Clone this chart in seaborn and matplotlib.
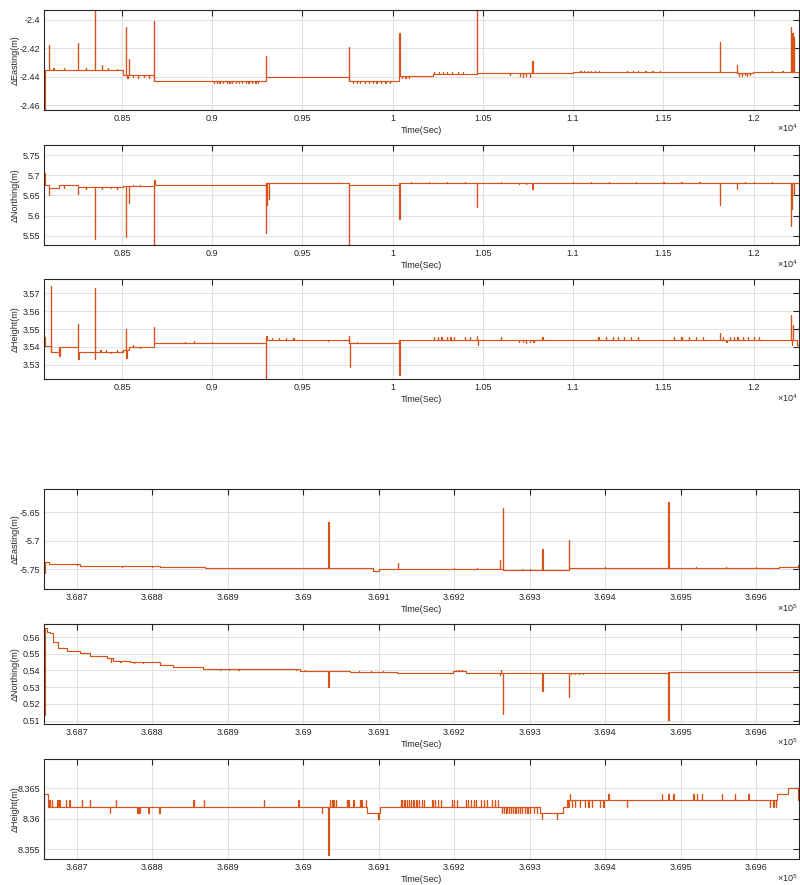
import pandas as pd
import seaborn as sns
import matplotlib.pyplot as plt
from matplotlib.ticker import FuncFormatter

# --- Data (time in s, offsets in m) ---
# Top group: 8068 .. 12252 s
T1_RANGE = (8068, 12252)

E1_lev_t = [8068, 8072, 8508, 8676, 9297, 9759, 10037, 10225, 10468, 11000, 11907, 11998]
E1_lev_v = [-2.463, -2.435, -2.4387, -2.4427, -2.4400, -2.4427, -2.4394, -2.4383, -2.4376, -2.4368, -2.4376, -2.4368]
E1_spk_t = [8097, 8255, 8349, 8389, 8521, 8539, 8676, 9297, 9759, 10037, 10468, 10775, 11815, 11907, 12207, 12215, 12225]
E1_spk_v = [-2.4176, -2.4164, -2.385, -2.4317, -2.4047, -2.4277, -2.4005, -2.4254, -2.4188, -2.4094, -2.385,
            -2.4287, -2.4157, -2.4317, -2.4047, -2.409, -2.412]
E1_fz_t = [8120, 8180, 8300, 8420, 8470, 8530, 8560, 8590, 8620, 8650,
           9010, 9025, 9040, 9060, 9080, 9095, 9110, 9130, 9150, 9165, 9185, 9200, 9220, 9240, 9255,
           9780, 9800, 9820, 9845, 9870, 9890, 9910, 9935, 9960, 9985, 10050, 10070, 10090,
           10230, 10255, 10280, 10300, 10330, 10360, 10390, 10650, 10705, 10720, 10740, 10760,
           11040, 11060, 11080, 11100, 11120, 11145, 11300, 11330, 11360, 11400, 11440, 11480,
           11920, 11935, 11950, 11965, 11980, 12100, 12160]
E1_fz_v = [-2.4340, -2.4340, -2.4340, -2.4335, -2.4345, -2.4405, -2.4400, -2.4405, -2.4400, -2.4405,
           -2.4445, -2.4440, -2.4445, -2.4440, -2.4445, -2.4440, -2.4445, -2.4440, -2.4445, -2.4440, -2.4445, -2.4440, -2.4445, -2.4440, -2.4445,
           -2.4445, -2.4440, -2.4445, -2.4440, -2.4445, -2.4440, -2.4445, -2.4440, -2.4445, -2.4440, -2.4405, -2.4408, -2.4405,
           -2.4365, -2.4365, -2.4368, -2.4365, -2.4365, -2.4368, -2.4365, -2.4390, -2.4395, -2.4398, -2.4395, -2.4398,
           -2.4358, -2.4358, -2.4360, -2.4358, -2.4358, -2.4360, -2.4358, -2.4358, -2.4360, -2.4358, -2.4358, -2.4360,
           -2.4392, -2.4392, -2.4390, -2.4392, -2.4390, -2.4360, -2.4360]

N1_lev_t = [8068, 8071, 8097, 8153, 8255, 8508, 8676, 9297, 9759, 10037]
N1_lev_v = [5.705, 5.676, 5.669, 5.676, 5.670, 5.673, 5.6757, 5.680, 5.6757, 5.6815]
N1_spk_t = [8097, 8255, 8349, 8389, 8521, 8539, 8676, 8680, 9297, 9302, 9315, 9759, 10037, 10468, 10775,
            11815, 11907, 12207, 12214, 12222]
N1_spk_v = [5.651, 5.653, 5.541, 5.665, 5.546, 5.630, 5.52, 5.688, 5.558, 5.625, 5.640, 5.52, 5.591, 5.622, 5.667,
            5.625, 5.667, 5.574, 5.616, 5.650]
N1_fz_t = [8180, 8300, 8440, 8470, 8560, 8600, 9350, 9400, 9450, 9500, 9550, 9600, 9650, 10100, 10200,
           10300, 10400, 10600, 10700, 10740, 11000, 11100, 11200, 11350, 11500, 11600, 11700, 11950, 12000, 12100]
N1_fz_v = [5.668, 5.665, 5.668, 5.666, 5.676, 5.677, 5.682, 5.682, 5.682, 5.682, 5.682, 5.682, 5.682, 5.684, 5.684,
           5.684, 5.684, 5.684, 5.678, 5.678, 5.684, 5.684, 5.684, 5.684, 5.684, 5.684, 5.684, 5.684, 5.684, 5.684]

H1_lev_t = [8068, 8071, 8107, 8153, 8255, 8508, 8540, 8676, 9297, 9759, 10037, 12240]
H1_lev_v = [3.5456, 3.5404, 3.5372, 3.5400, 3.5372, 3.5385, 3.5400, 3.5422, 3.5439, 3.5422, 3.5441, 3.5410]
H1_spk_t = [8107, 8153, 8255, 8258, 8349, 8352, 8521, 8525, 8676, 9297, 9300, 9759, 9762, 10037,
            10468, 10471, 11815, 12207, 12212, 12218]
H1_spk_v = [3.574, 3.535, 3.553, 3.533, 3.5727, 3.533, 3.5498, 3.534, 3.551, 3.52, 3.546, 3.546, 3.5288, 3.524,
            3.546, 3.541, 3.548, 3.558, 3.541, 3.552]
H1_fz_t = [8380, 8410, 8440, 8470, 8500, 8560, 8600, 8850, 8900, 9000, 9330, 9370, 9410, 9450, 9640, 9800,
           10230, 10250, 10270, 10300, 10320, 10340, 10400, 10430, 10600, 10700, 10720, 10740, 10760, 10780,
           10830, 11140, 11180, 11220, 11250, 11280, 11320, 11360, 11560, 11600, 11640, 11680, 11720,
           11830, 11850, 11870, 11890, 11910, 11940, 11970, 12000, 12030]
H1_fz_v = [3.5385, 3.5380, 3.5365, 3.5385, 3.5375, 3.5408, 3.5395, 3.5430, 3.5432, 3.5430, 3.5450, 3.5452, 3.5450,
           3.5452, 3.5432, 3.5430,
           3.5455, 3.5453, 3.5455, 3.5453, 3.5455, 3.5453, 3.5455, 3.5453, 3.5455, 3.5425, 3.5428, 3.5420, 3.5428, 3.5425,
           3.5455, 3.5455, 3.5453, 3.5455, 3.5453, 3.5455, 3.5453, 3.5455, 3.5455, 3.5453, 3.5455, 3.5453, 3.5455,
           3.5455, 3.5428, 3.5455, 3.5453, 3.5455, 3.5453, 3.5455, 3.5453, 3.5455]

# Bottom group: 368657 .. 369657 s
T2_RANGE = (368656.7, 369656.7)

E2_lev_t = [368656.7, 368658, 368663, 368704, 368810, 368870, 369093, 369100, 369264, 369352, 369630]
E2_lev_v = [-5.757, -5.7367, -5.7407, -5.7442, -5.7465, -5.748, -5.7525, -5.749, -5.7512, -5.748, -5.7465]
E2_spk_t = [369033.3, 369125, 369260.7, 369264, 369316.7, 369352, 369483.6, 369655]
E2_spk_v = [-5.6665, -5.7395, -5.734, -5.643, -5.7144, -5.6986, -5.6325, -5.742]
E2_fz_t = [368700, 368730, 368760, 368800, 368850, 368900, 369000, 369200, 369230, 369290, 369300,
           369400, 369430, 369520, 369560, 369600]
E2_fz_v = [-5.7430, -5.7440, -5.7455, -5.7460, -5.7470, -5.7475, -5.7475, -5.7475, -5.7478, -5.7505, -5.7500,
           -5.7470, -5.7472, -5.7470, -5.7468, -5.7455]

N2_lev_t = [368656.7, 368657.5, 368660.2, 368664.6, 368669, 368675.7, 368686.8, 368704.4, 368717.6, 368739.7,
            368748.5, 368770.6, 368810.3, 368828, 368867.7, 368995.8, 369062, 369124.7, 369199, 369216, 369264, 369483.6]
N2_lev_v = [0.5134, 0.5652, 0.5632, 0.5622, 0.5572, 0.5532, 0.5518, 0.5503, 0.5488, 0.5473,
            0.5459, 0.5451, 0.5433, 0.5423, 0.5407, 0.5399, 0.5393, 0.5387, 0.5399, 0.5387, 0.5386, 0.5389]
N2_spk_t = [369033.3, 369260.7, 369262, 369264, 369316.7, 369352, 369483.6]
N2_spk_v = [0.530, 0.5375, 0.5405, 0.514, 0.528, 0.524, 0.5104]
N2_fz_t = [368745, 368752, 368758, 368764, 368770, 368776, 368782, 368788, 368884, 368890, 368896, 368902, 368908,
           368914, 368990, 368996, 369002, 369008, 369074, 369082, 369090, 369098, 369106, 369114, 369202, 369206,
           369210, 369290, 369300, 369330, 369355, 369360, 369365, 369370, 369390, 369410,
           369490, 369500, 369510, 369520, 369530, 369540, 369550, 369560, 369570, 369580, 369590, 369600,
           369610, 369620, 369630]
N2_fz_v = [0.5453, 0.5459, 0.5453, 0.5459, 0.5453, 0.5445, 0.5453, 0.5445, 0.5410, 0.5404, 0.5410, 0.5404, 0.5410,
           0.5404, 0.5405, 0.5396, 0.5405, 0.5396, 0.5396, 0.5390, 0.5396, 0.5390, 0.5396, 0.5390, 0.5405, 0.5402,
           0.5405, 0.5382, 0.5382, 0.5382, 0.5378, 0.5380, 0.5378, 0.5380, 0.5382, 0.5382,
           0.5393, 0.5392, 0.5393, 0.5392, 0.5393, 0.5392, 0.5393, 0.5392, 0.5393, 0.5392, 0.5393, 0.5392,
           0.5393, 0.5392, 0.5393]

H2_lev_t = [368656.7, 368657.3, 368662, 369084, 369101.7, 369313.7, 369344.5, 369349, 369627, 369642.5, 369655]
H2_lev_v = [8.3534, 8.364, 8.362, 8.361, 8.362, 8.361, 8.362, 8.363, 8.364, 8.365, 8.363]
H2_spk_t = [369033.3, 369099.5, 369315.8, 369335.7]
H2_spk_v = [8.354, 8.360, 8.360, 8.360]
H2_fz_t = [368663.7, 368666.9, 368674.3, 368677, 368685.4, 368690.2, 368706.6, 368717.6, 368751.6, 368854.5,
           368868.6, 368948.1, 368993.5, 369035.5, 369037.5, 369040, 369043, 369057.6, 369060, 369066.4, 369075.3,
           369077, 369083.2,
           368744.1, 368780.3, 368783, 368794.9, 368809.6, 369024.5,
           369129, 369131, 369134, 369137, 369140, 369143, 369146, 369150, 369153, 369157, 369160, 369171, 369174,
           369178, 369182, 369197, 369200, 369204, 369215, 369218, 369222, 369226, 369229, 369235, 369239, 369243,
           369250, 369254, 369258,
           369263, 369266, 369269, 369272, 369275, 369278, 369281, 369284, 369287, 369290, 369294, 369297, 369300,
           369306, 369310,
           369351.2, 369355.6, 369360, 369366.6, 369373.2, 369377.6, 369382.1, 369393.1, 369397.5, 369428.4,
           369618.3, 369622.7, 369626.2,
           369353.4, 369404.1, 369474.8, 369483.6, 369490.2, 369516.7, 369521.1, 369527.8, 369554.2, 369571.9,
           369589.6]
H2_fz_v = [8.363] * 23 + [8.361] * 6 + [8.363] * 29 + [8.361] * 15 + [8.362] * 13 + [8.364] * 11

PANELS = [
    ("\u0394Easting(m)", T1_RANGE, (-2.4633, -2.393), [-2.46, -2.44, -2.42, -2.4],
     E1_lev_t, E1_lev_v, E1_spk_t + E1_fz_t, E1_spk_v + E1_fz_v),
    ("\u0394Northing(m)", T1_RANGE, (5.527, 5.775), [5.55, 5.6, 5.65, 5.7, 5.75],
     N1_lev_t, N1_lev_v, N1_spk_t + N1_fz_t, N1_spk_v + N1_fz_v),
    ("\u0394Height(m)", T1_RANGE, (3.522, 3.578), [3.53, 3.54, 3.55, 3.56, 3.57],
     H1_lev_t, H1_lev_v, H1_spk_t + H1_fz_t, H1_spk_v + H1_fz_v),
    ("\u0394Easting(m)", T2_RANGE, (-5.785, -5.609), [-5.75, -5.7, -5.65],
     E2_lev_t, E2_lev_v, E2_spk_t + E2_fz_t, E2_spk_v + E2_fz_v),
    ("\u0394Northing(m)", T2_RANGE, (0.508, 0.5678), [0.51, 0.52, 0.53, 0.54, 0.55, 0.56],
     N2_lev_t, N2_lev_v, N2_spk_t + N2_fz_t, N2_spk_v + N2_fz_v),
    ("\u0394Height(m)", T2_RANGE, (8.3534, 8.3698), [8.355, 8.36, 8.365],
     H2_lev_t, H2_lev_v, H2_spk_t + H2_fz_t, H2_spk_v + H2_fz_v),
]


def build_series(lev_t, lev_v, spk_t, spk_v, dt, t_end):
    """Step series through the level changes, with short excursions at the spike times."""
    events = [(t, 0, v) for t, v in zip(lev_t, lev_v)] + [(t, 1, v) for t, v in zip(spk_t, spk_v)]
    events.sort(key=lambda e: (e[0], e[1]))
    cur = lev_v[0]
    xs, ys = [lev_t[0]], [cur]
    for t, kind, v in events:
        if kind == 0:
            xs += [t, t]
            ys += [cur, v]
            cur = v
        else:
            xs += [t, t, t + dt, t + dt]
            ys += [cur, v, v, cur]
    xs.append(t_end)
    ys.append(cur)
    return pd.DataFrame({"t": xs, "v": ys})


# --- Plotting ---
sns.set_style("white")
plt.rcParams["font.family"] = ["Liberation Sans", "DejaVu Sans"]
plt.rcParams["mathtext.fontset"] = "custom"
plt.rcParams["mathtext.rm"] = "Liberation Sans"

LINE = "#D95319"
AXC = "#262626"
FS = 6.5

fig = plt.figure(figsize=(8, 8.85), dpi=100)
tops = [10, 145, 279, 489, 624, 759]

for (ylab, trange, ylim, yticks, lt, lv, st, sv), top in zip(PANELS, tops):
    ax = fig.add_axes([44 / 800, 1 - (top + 100) / 885, 755 / 800, 100 / 885])
    span = trange[1] - trange[0]
    df = build_series(lt, lv, st, sv, span / 3000, trange[1])
    sns.lineplot(data=df, x="t", y="v", sort=False, estimator=None, color=LINE, lw=0.85, ax=ax)

    ax.set_xlim(*trange)
    ax.set_ylim(*ylim)
    ax.set_yticks(yticks)
    scale = 1e4 if trange[1] < 1e5 else 1e5
    step = 500 if scale == 1e4 else 100
    first = (int(trange[0]) // step + 1) * step
    ax.set_xticks(list(range(first, int(trange[1]) + 1, step)))
    ax.xaxis.set_major_formatter(FuncFormatter(lambda v, p, s=scale: f"{round(v / s, 6):g}"))
    ax.yaxis.set_major_formatter(FuncFormatter(lambda v, p: f"{round(v, 6):g}"))

    ax.grid(True, color="#dcdcdc", lw=0.6)
    for sp in ax.spines.values():
        sp.set_color(AXC)
        sp.set_linewidth(0.8)
    ax.tick_params(direction="in", length=4, width=0.8, color=AXC, labelsize=FS,
                   labelcolor=AXC, top=True, right=True, pad=3)

    ax.set_ylabel(ylab, fontsize=FS, color=AXC)
    ax.yaxis.set_label_coords(-0.032, 0.5)
    ax.set_xlabel("Time(Sec)", fontsize=FS, color=AXC)
    ax.xaxis.set_label_coords(0.5, -0.16)
    expo = 4 if scale == 1e4 else 5
    ax.text(0.998, -0.225, rf"$\times10^{{{expo}}}$", transform=ax.transAxes,
            ha="right", va="baseline", fontsize=FS, color=AXC)

plt.savefig("out.png", dpi=100)
print("saved out.png")
